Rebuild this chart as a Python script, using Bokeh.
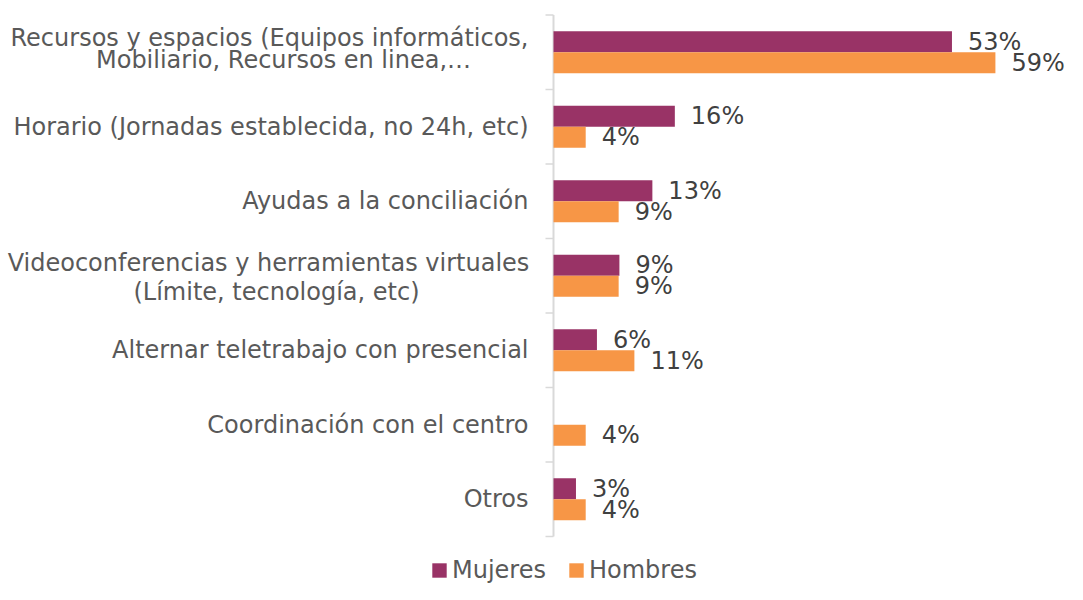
from bokeh.plotting import figure
from bokeh.models import Range1d, Legend, LegendItem, ColumnDataSource
from bokeh.core.properties import value
from bokeh.embed import file_html
from bokeh.resources import INLINE

# ---------------- data ----------------
categories = [
    "Recursos y espacios (Equipos informáticos,\nMobiliario, Recursos en linea,…",
    "Horario (Jornadas establecida, no 24h, etc)",
    "Ayudas a la conciliación",
    "Videoconferencias y herramientas virtuales\n(Límite, tecnología, etc)",
    "Alternar teletrabajo con presencial",
    "Coordinación con el centro",
    "Otros",
]
series_names = ["Mujeres", "Hombres"]
mujeres = [53.2, 16.2, 13.2, 8.8, 5.8, 0.0, 3.0]
hombres = [59.0, 4.3, 8.7, 8.7, 10.8, 4.3, 4.3]

# ---------------- styles ----------------
W, H = 1067, 584
PX = 7.49            # pixels per percentage point
X0 = 553             # pixel position of the value axis origin
ROW = 74.5           # pixels per category band
ROW0 = 51.75         # pixel y of first band centre
BAR = 21.0 / ROW     # bar thickness in band units
C_M = "#993366"
C_H = "#F79646"
TXT = "#595959"
VAL = "#404040"
FONT = "DejaVu Sans"
FS_CAT = "24px"
FS_VAL = "24px"
AXIS_C = "#d9d9d9"
# multi-line labels: (block shift px, line gap px, per-line centre offsets px from axis)
line_layout = {0: (-3.0, 22.0, [-284, -270]), 3: (2.0, 29.0, [-285, -277])}

p = figure(width=W, height=H, output_backend="svg", toolbar_location=None,
           x_range=Range1d(-X0 / PX, (W - X0) / PX),
           y_range=Range1d((H - ROW0) / ROW, -ROW0 / ROW),
           min_border=0, min_border_left=0, min_border_right=0,
           min_border_top=0, min_border_bottom=0)
p.axis.visible = False
p.grid.visible = False
p.outline_line_color = None
p.background_fill_color = "white"
p.border_fill_color = "white"

n = len(categories)
idx = list(range(n))

# axis line and tick marks at band boundaries
bounds = [k - 0.5 for k in range(n + 1)]
p.segment(x0=[0], y0=[bounds[0]], x1=[0], y1=[bounds[-1]], line_color=AXIS_C, line_width=2)
p.segment(x0=[-8 / PX] * len(bounds), y0=bounds, x1=[0] * len(bounds), y1=bounds,
          line_color=AXIS_C, line_width=1.5)

# bars
src_m = ColumnDataSource(dict(y=[k - BAR / 2 for k in idx], v=mujeres))
src_h = ColumnDataSource(dict(y=[k + BAR / 2 for k in idx], v=hombres))
rm = p.hbar(y="y", left=0, right="v", height=BAR, source=src_m, fill_color=C_M, line_color=None)
rh = p.hbar(y="y", left=0, right="v", height=BAR, source=src_h, fill_color=C_H, line_color=None)

# value labels
lab_y, lab_x, lab_t = [], [], []
for k in idx:
    for vals, off in ((mujeres, -BAR / 2), (hombres, BAR / 2)):
        v = vals[k]
        if v > 0:
            lab_x.append(v)
            lab_y.append(k + off)
            lab_t.append(f"{round(v):d}%")
p.text(x=lab_x, y=lab_y, text=lab_t, x_offset=16, text_align="left", text_baseline="middle",
       text_font=value(FONT), text_font_size=FS_VAL, text_color=VAL)

# category labels: single-line right aligned, multi-line centred as a block
sy, st = [], []
my, mt, mx = [], [], []
for k, c in enumerate(categories):
    lines = c.split("\n")
    if len(lines) == 1:
        sy.append(k)
        st.append(c)
        continue
    shift, gap, centres = line_layout[k]
    m = len(lines)
    for j, ln in enumerate(lines):
        offpx = shift + (j - (m - 1) / 2) * gap
        my.append(k + offpx / ROW)
        mt.append(ln)
        mx.append(centres[j])
p.text(x=[0] * len(st), y=sy, text=st, x_offset=-25, text_align="right", text_baseline="middle",
       text_font=value(FONT), text_font_size=FS_CAT, text_color=TXT)
p.text(x=[0] * len(mt), y=my, text=mt, x_offset=mx, text_align="center", text_baseline="middle",
       text_font=value(FONT), text_font_size=FS_CAT, text_color=TXT)

legend = Legend(items=[LegendItem(label=series_names[0], renderers=[rm]),
                       LegendItem(label=series_names[1], renderers=[rh])],
                orientation="horizontal", location=(430, 0),
                glyph_width=18, glyph_height=18, label_standoff=4, spacing=21,
                padding=0, margin=0, border_line_color=None, background_fill_alpha=0,
                label_text_font=FONT, label_text_font_size=FS_CAT, label_text_color=TXT)
p.add_layout(legend)

open("out.html", "w").write(file_html(p, INLINE))
